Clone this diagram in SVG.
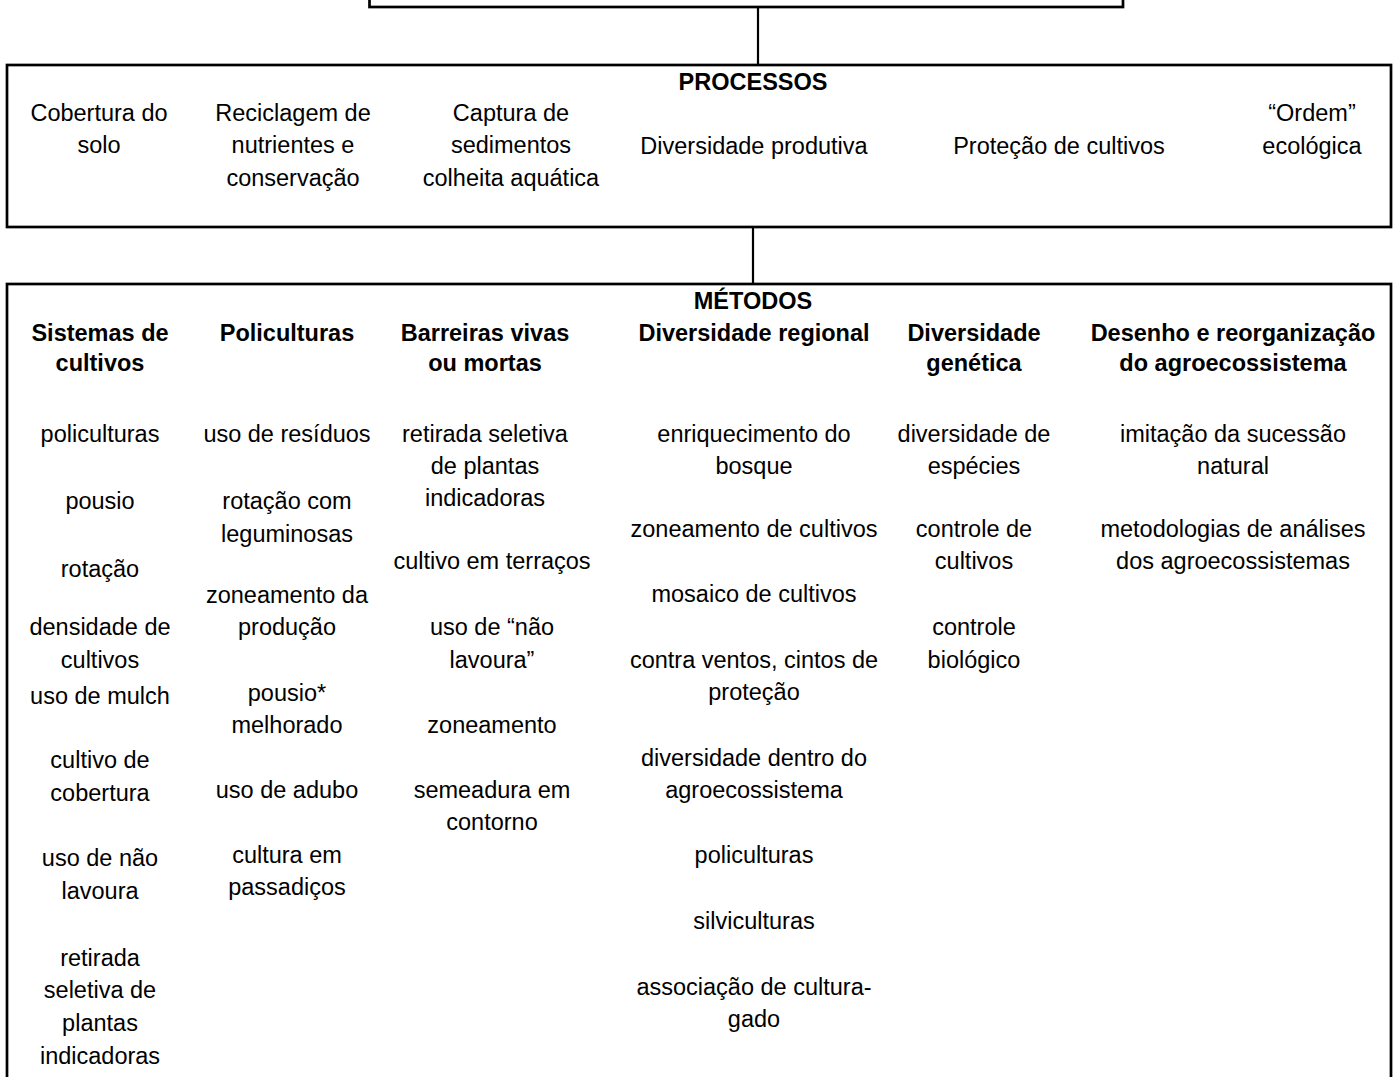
<svg xmlns="http://www.w3.org/2000/svg" width="1397" height="1077" viewBox="0 0 1397 1077">
<style>
.box{fill:none;stroke:#000;stroke-width:2.7}
.con{stroke:#000;stroke-width:2.2;fill:none}
text{font-family:"Liberation Sans",Arial,sans-serif;font-size:23.5px;fill:#000;text-anchor:middle}
.b{font-weight:bold}
</style>
<rect width="1397" height="1077" fill="#fff"/>
<g id="top">
<rect class="box" x="369.5" y="-20" width="753.5" height="27"/>
</g>
<g id="connectors">
<line class="con" x1="758" y1="7" x2="758" y2="65"/>
<line class="con" x1="753" y1="227" x2="753" y2="284"/>
</g>
<g id="processos">
<rect class="box" x="7" y="65" width="1384" height="162"/>
<text class="b" x="753" y="90">PROCESSOS</text>
<text x="99" y="121">Cobertura do</text>
<text x="99" y="153">solo</text>
<text x="293" y="121">Reciclagem de</text>
<text x="293" y="153">nutrientes e</text>
<text x="293" y="186">conservação</text>
<text x="511" y="121">Captura de</text>
<text x="511" y="153">sedimentos</text>
<text x="511" y="186">colheita aquática</text>
<text x="754" y="154">Diversidade produtiva</text>
<text x="1059" y="154">Proteção de cultivos</text>
<text x="1312" y="121">“Ordem”</text>
<text x="1312" y="154">ecológica</text>
</g>
<g id="metodos">
<rect class="box" x="7" y="284" width="1384" height="820"/>
<text class="b" x="753" y="309">MÉTODOS</text>
<g id="col1">
<text class="b" x="100" y="341">Sistemas de</text>
<text class="b" x="100" y="371">cultivos</text>
<text x="100" y="442">policulturas</text>
<text x="100" y="509">pousio</text>
<text x="100" y="577">rotação</text>
<text x="100" y="635">densidade de</text>
<text x="100" y="668">cultivos</text>
<text x="100" y="704">uso de mulch</text>
<text x="100" y="768">cultivo de</text>
<text x="100" y="801">cobertura</text>
<text x="100" y="866">uso de não</text>
<text x="100" y="899">lavoura</text>
<text x="100" y="966">retirada</text>
<text x="100" y="998">seletiva de</text>
<text x="100" y="1031">plantas</text>
<text x="100" y="1064">indicadoras</text>
</g>
<g id="col2">
<text class="b" x="287" y="341">Policulturas</text>
<text x="287" y="442">uso de resíduos</text>
<text x="287" y="509">rotação com</text>
<text x="287" y="542">leguminosas</text>
<text x="287" y="603">zoneamento da</text>
<text x="287" y="635">produção</text>
<text x="287" y="701">pousio*</text>
<text x="287" y="733">melhorado</text>
<text x="287" y="798">uso de adubo</text>
<text x="287" y="863">cultura em</text>
<text x="287" y="895">passadiços</text>
</g>
<g id="col3">
<text class="b" x="485" y="341">Barreiras vivas</text>
<text class="b" x="485" y="371">ou mortas</text>
<text x="485" y="442">retirada seletiva</text>
<text x="485" y="474">de plantas</text>
<text x="485" y="506">indicadoras</text>
<text x="492" y="569">cultivo em terraços</text>
<text x="492" y="635">uso de “não</text>
<text x="492" y="668">lavoura”</text>
<text x="492" y="733">zoneamento</text>
<text x="492" y="798">semeadura em</text>
<text x="492" y="830">contorno</text>
</g>
<g id="col4">
<text class="b" x="754" y="341">Diversidade regional</text>
<text x="754" y="442">enriquecimento do</text>
<text x="754" y="474">bosque</text>
<text x="754" y="537">zoneamento de cultivos</text>
<text x="754" y="602">mosaico de cultivos</text>
<text x="754" y="668">contra ventos, cintos de</text>
<text x="754" y="700">proteção</text>
<text x="754" y="766">diversidade dentro do</text>
<text x="754" y="798">agroecossistema</text>
<text x="754" y="863">policulturas</text>
<text x="754" y="929">silviculturas</text>
<text x="754" y="995">associação de cultura-</text>
<text x="754" y="1027">gado</text>
</g>
<g id="col5">
<text class="b" x="974" y="341">Diversidade</text>
<text class="b" x="974" y="371">genética</text>
<text x="974" y="442">diversidade de</text>
<text x="974" y="474">espécies</text>
<text x="974" y="537">controle de</text>
<text x="974" y="569">cultivos</text>
<text x="974" y="635">controle</text>
<text x="974" y="668">biológico</text>
</g>
<g id="col6">
<text class="b" x="1233" y="341">Desenho e reorganização</text>
<text class="b" x="1233" y="371">do agroecossistema</text>
<text x="1233" y="442">imitação da sucessão</text>
<text x="1233" y="474">natural</text>
<text x="1233" y="537">metodologias de análises</text>
<text x="1233" y="569">dos agroecossistemas</text>
</g>
</g>
</svg>
